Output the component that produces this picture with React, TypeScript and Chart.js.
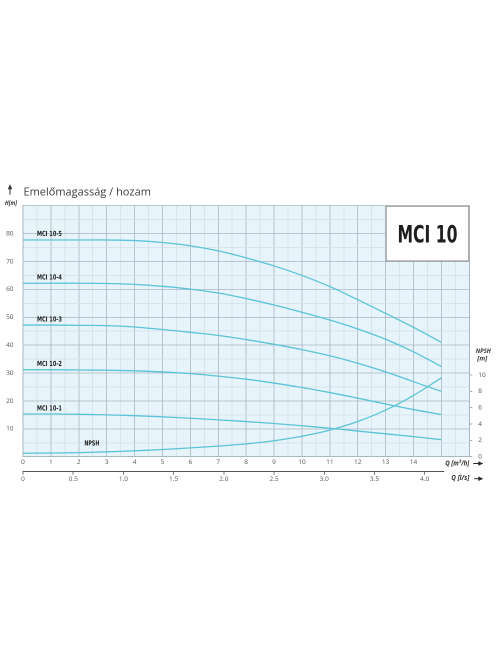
import React, { useEffect, useRef } from "react";
import { Chart, registerables } from "chart.js";

Chart.register(...registerables);

// ---- data ----
const flowM3h = [0, 1, 2, 3, 4, 5, 6, 7, 8, 9, 10, 11, 12, 13, 14, 15];
const headMci105 = [77.7, 77.7, 77.7, 77.7, 77.5, 76.8, 75.6, 73.8, 71.3, 68.4, 65.0, 61.0, 56.3, 51.4, 46.4, 41.0];
const headMci104 = [62.2, 62.2, 62.2, 62.1, 61.8, 61.1, 60.1, 58.7, 56.7, 54.4, 51.8, 49.0, 45.8, 42.1, 37.6, 32.3];
const headMci103 = [47.2, 47.2, 47.1, 47.0, 46.5, 45.6, 44.6, 43.5, 42.0, 40.3, 38.4, 36.2, 33.5, 30.4, 26.9, 23.4];
const headMci102 = [31.2, 31.2, 31.1, 31.0, 30.8, 30.4, 29.8, 28.9, 27.8, 26.4, 24.8, 23.0, 21.0, 18.9, 16.9, 15.1];
const headMci101 = [15.3, 15.3, 15.2, 15.0, 14.7, 14.3, 13.8, 13.2, 12.6, 11.9, 11.1, 10.2, 9.2, 8.2, 7.2, 6.1];
const npshValues = [0.42, 0.45, 0.5, 0.6, 0.72, 0.88, 1.08, 1.3, 1.57, 1.95, 2.5, 3.25, 4.3, 5.7, 7.5, 9.65];
const seriesNames = ["MCI 10-5", "MCI 10-4", "MCI 10-3", "MCI 10-2", "MCI 10-1"];
const npshName = "NPSH";
const headTickLabels = [10, 20, 30, 40, 50, 60, 70, 80];
const flowTickLabels = [0, 1, 2, 3, 4, 5, 6, 7, 8, 9, 10, 11, 12, 13, 14];
const litreTickLabels = ["0", "0.5", "1.0", "1.5", "2.0", "2.5", "3.0", "3.5", "4.0"];
const npshTickLabels = [0, 2, 4, 6, 8, 10];
const titleText = "Emelőmagasság / hozam";
const modelText = "MCI 10";

const headSeries = [headMci105, headMci104, headMci103, headMci102, headMci101];

const CURVE = "#5bc4d9";
const MAJOR = "#a9b7c0";
const MINOR = "#d3e0e7";
const TICK_FONT = { family: '"Open Sans", "DejaVu Sans", sans-serif', size: 6.5 };
const COND = '"DejaVu Sans Condensed", "DejaVu Sans", sans-serif';

function fitText(ctx: CanvasRenderingContext2D, text: string, x: number, y: number, maxW: number, align: "left" | "center" | "right") {
  const w = ctx.measureText(text).width;
  const s = w > maxW ? maxW / w : 1;
  ctx.save();
  ctx.translate(x, y);
  ctx.scale(s, 1);
  ctx.textAlign = align;
  ctx.fillText(text, 0, 0);
  ctx.restore();
}

function rightArrow(ctx: CanvasRenderingContext2D, x0: number, x1: number, y: number) {
  ctx.beginPath();
  ctx.moveTo(x0, y);
  ctx.lineTo(x1 - 4, y);
  ctx.stroke();
  ctx.beginPath();
  ctx.moveTo(x1 - 5, y - 2.3);
  ctx.lineTo(x1, y);
  ctx.lineTo(x1 - 5, y + 2.3);
  ctx.closePath();
  ctx.fill();
}

const decorPlugin = {
  id: "decor",
  beforeDraw(chart: any) {
    const { ctx, chartArea: a } = chart;
    ctx.save();
    ctx.fillStyle = "#e8f4fb";
    ctx.fillRect(a.left, a.top, a.right - a.left, a.bottom - a.top);
    ctx.restore();
  },
  afterDraw(chart: any) {
    const { ctx, chartArea: a, scales } = chart;
    const x = scales.x;
    const y = scales.y;
    const y1 = scales.y1;
    ctx.save();

    // model box
    const bx0 = x.getPixelForValue(13);
    const bx1 = x.getPixelForValue(16);
    const by0 = y.getPixelForValue(90);
    const by1 = y.getPixelForValue(70);
    ctx.fillStyle = "#ffffff";
    ctx.fillRect(bx0, by0, bx1 - bx0, by1 - by0);
    ctx.strokeStyle = "#8a8a8a";
    ctx.lineWidth = 1;
    ctx.strokeRect(bx0 + 0.5, by0 + 0.5, bx1 - bx0 - 1, by1 - by0 - 1);
    ctx.fillStyle = "#1e1e1e";
    ctx.font = `bold 24px ${COND}`;
    ctx.textBaseline = "alphabetic";
    fitText(ctx, modelText, (bx0 + bx1) / 2, (by0 + by1) / 2 + 8.7, 60, "center");

    // curve labels
    ctx.fillStyle = "#222";
    ctx.font = `bold 7px ${COND}`;
    ctx.textBaseline = "middle";
    headSeries.forEach((s, i) => {
      fitText(ctx, seriesNames[i], x.getPixelForValue(0.5), y.getPixelForValue(s[0] + 2), 25, "left");
    });
    fitText(ctx, npshName, x.getPixelForValue(2.2), y1.getPixelForValue(npshValues[2] + 1.1), 15, "left");

    // title
    ctx.fillStyle = "#3c3c3c";
    ctx.font = '11px "Open Sans", "DejaVu Sans", sans-serif';
    ctx.textBaseline = "alphabetic";
    ctx.textAlign = "left";
    ctx.fillText(titleText, a.left + 0.5, a.top - 10);

    // up arrow and H[m]
    ctx.strokeStyle = "#333";
    ctx.fillStyle = "#333";
    ctx.lineWidth = 1;
    ctx.beginPath();
    ctx.moveTo(10, a.top - 11);
    ctx.lineTo(10, a.top - 18);
    ctx.stroke();
    ctx.beginPath();
    ctx.moveTo(10, a.top - 21.5);
    ctx.lineTo(7.8, a.top - 16.5);
    ctx.lineTo(12.2, a.top - 16.5);
    ctx.closePath();
    ctx.fill();
    ctx.font = 'italic bold 6px "Open Sans", "DejaVu Sans", sans-serif';
    ctx.textBaseline = "middle";
    fitText(ctx, "H[m]", 11, a.top - 2.5, 12, "center");

    // NPSH [m] right label
    ctx.font = 'italic bold 6.5px "Open Sans", "DejaVu Sans", sans-serif';
    fitText(ctx, "NPSH", a.right + 14, y1.getPixelForValue(12.9), 15, "center");
    fitText(ctx, "[m]", a.right + 13, y1.getPixelForValue(12.0), 10, "center");

    // hide end of l/s axis line behind its label
    const x2 = scales.x2;
    ctx.fillStyle = "#ffffff";
    ctx.fillRect(x.getPixelForValue(15.1), x2.top - 1.5, a.right - x.getPixelForValue(15.1) + 2, 3);

    // axis unit labels with arrows
    ctx.fillStyle = "#2a2a2a";
    ctx.strokeStyle = "#2a2a2a";
    ctx.font = 'italic bold 7px "Open Sans", "DejaVu Sans", sans-serif';
    ctx.textBaseline = "middle";
    fitText(ctx, "Q [m³/h]", a.right, a.bottom + 6.6, 24, "right");
    rightArrow(ctx, a.right + 4, a.right + 14, a.bottom + 6.8);
    fitText(ctx, "Q [l/s]", a.right, x2.top + 6.2, 18, "right");
    rightArrow(ctx, a.right + 5, a.right + 14, x2.top + 7);

    ctx.restore();
  },
};

export default function App() {
  const ref = useRef<HTMLCanvasElement | null>(null);

  useEffect(() => {
    if (!ref.current) return;
    const headDatasets = headSeries.map((s, i) => ({
      label: seriesNames[i],
      data: flowM3h.map((q, k) => ({ x: q, y: s[k] })),
      borderColor: CURVE,
      borderWidth: 1.3,
      pointRadius: 0,
      fill: false,
      tension: 0.4,
      yAxisID: "y",
      xAxisID: "x",
    }));
    const npshDataset = {
      label: npshName,
      data: flowM3h.map((q, k) => ({ x: q, y: npshValues[k] })),
      borderColor: CURVE,
      borderWidth: 1.3,
      pointRadius: 0,
      fill: false,
      tension: 0.4,
      yAxisID: "y1",
      xAxisID: "x",
    };

    const chart = new Chart(ref.current, {
      type: "line",
      data: { datasets: [...headDatasets, npshDataset] },
      plugins: [decorPlugin],
      options: {
        animation: false,
        responsive: false,
        devicePixelRatio: 2,
        events: [],
        layout: { padding: { left: 0, top: 205.7, right: 6.7, bottom: 178.3 } },
        plugins: { legend: { display: false }, tooltip: { enabled: false } },
        scales: {
          x: {
            type: "linear",
            position: "bottom",
            weight: 0,
            min: 0,
            max: 16,
            afterFit: (s: any) => { s.height = 15; },
            ticks: {
              stepSize: 0.5,
              autoSkip: false,
              maxRotation: 0,
              padding: 1.5,
              color: "#555",
              font: TICK_FONT,
              callback: (v: any) => (flowTickLabels.includes(Number(v)) ? String(v) : ""),
            },
            grid: {
              drawTicks: false,
              color: (c: any) => (Number.isInteger(c.tick?.value) ? MAJOR : MINOR),
              lineWidth: 0.8,
            },
            border: { color: MAJOR, width: 1 },
          },
          x2: {
            type: "linear",
            position: "bottom",
            weight: 1,
            min: 0,
            max: 16 / 3.6,
            afterFit: (s: any) => { s.height = 14; },
            afterBuildTicks: (s: any) => {
              s.ticks = litreTickLabels.map((t) => ({ value: parseFloat(t) }));
            },
            ticks: {
              autoSkip: false,
              maxRotation: 0,
              padding: 0.5,
              color: "#555",
              font: TICK_FONT,
              callback: (_v: any, i: number) => litreTickLabels[i],
            },
            grid: { drawOnChartArea: false, drawTicks: true, tickLength: 3, tickColor: "#555", tickWidth: 0.8 },
            border: { color: "#555", width: 1 },
          },
          y: {
            type: "linear",
            position: "left",
            min: 0,
            max: 90,
            afterFit: (s: any) => { s.width = 23; },
            ticks: {
              stepSize: 5,
              autoSkip: false,
              padding: 9.5,
              color: "#555",
              font: TICK_FONT,
              callback: (v: any) => (headTickLabels.includes(Number(v)) ? String(v) : ""),
            },
            grid: {
              drawTicks: false,
              color: (c: any) => (c.tick && c.tick.value % 10 === 0 ? MAJOR : MINOR),
              lineWidth: 0.8,
            },
            border: { color: MAJOR, width: 1 },
          },
          y1: {
            type: "linear",
            position: "right",
            min: 0,
            max: 30.7,
            afterFit: (s: any) => { s.width = 20; },
            afterBuildTicks: (s: any) => {
              s.ticks = npshTickLabels.map((v) => ({ value: v }));
            },
            ticks: {
              autoSkip: false,
              padding: 6,
              color: "#555",
              font: TICK_FONT,
              callback: (v: any) => String(v),
            },
            grid: { drawOnChartArea: false, drawTicks: true, tickLength: 3, tickColor: "#999", tickWidth: 0.8 },
            border: { color: MAJOR, width: 1 },
          },
        },
      } as any,
    });
    return () => chart.destroy();
  }, []);

  return (
    <div style={{ position: "absolute", left: 0, top: 0, width: 496, height: 664, background: "#fff" }}>
      <canvas ref={ref} width={496} height={664} style={{ width: 496, height: 664, display: "block" }} />
    </div>
  );
}
